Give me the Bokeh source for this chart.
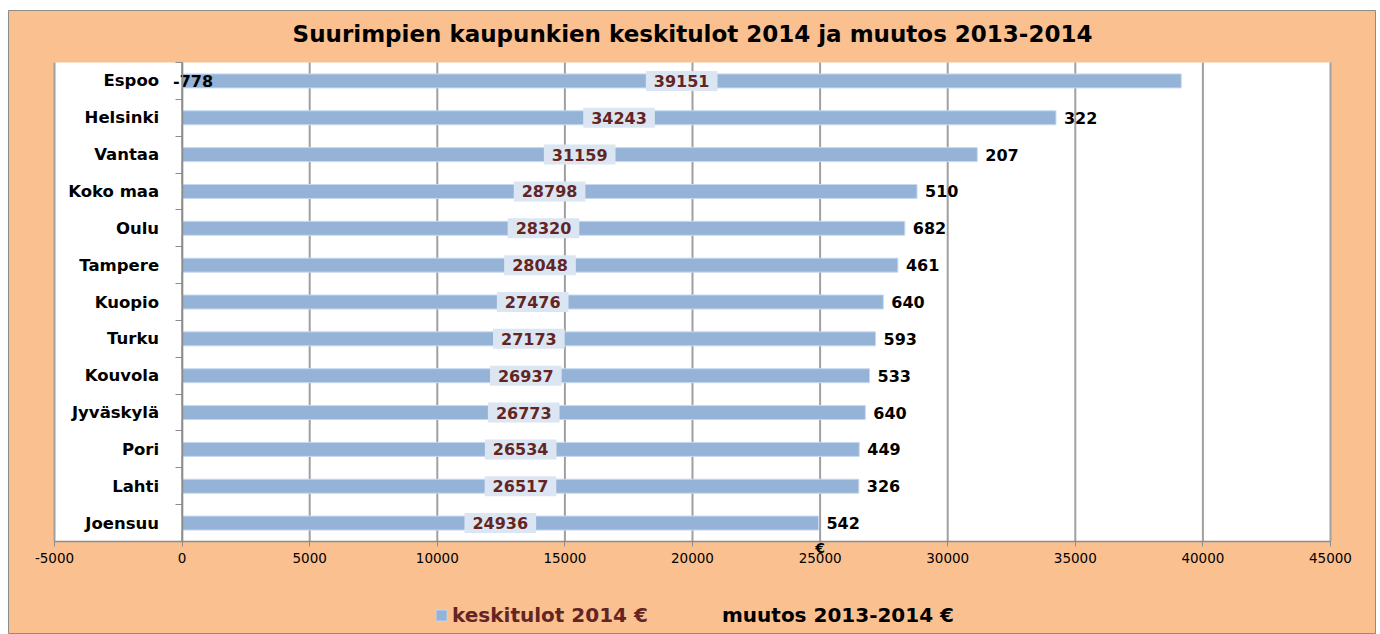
from bokeh.plotting import figure
from bokeh.models import Range1d, Label, Legend, LegendItem, ColumnDataSource, FixedTicker
from bokeh.embed import file_html
from bokeh.resources import INLINE
from bokeh.core.properties import value

# ---- data ----
cities = ["Espoo", "Helsinki", "Vantaa", "Koko maa", "Oulu", "Tampere", "Kuopio",
          "Turku", "Kouvola", "Jyväskylä", "Pori", "Lahti", "Joensuu"]
income_2014 = [39151, 34243, 31159, 28798, 28320, 28048, 27476,
               27173, 26937, 26773, 26534, 26517, 24936]
change_2013_2014 = [-778, 322, 207, 510, 682, 461, 640,
                    593, 533, 640, 449, 326, 542]
x_ticks = [-5000, 0, 5000, 10000, 15000, 20000, 25000, 30000, 35000, 40000, 45000]

title = "Suurimpien kaupunkien keskitulot 2014 ja muutos 2013-2014"
series_income = "keskitulot 2014 €"
series_change = "muutos 2013-2014 €"
unit = "€"

# ---- styles / layout ----
PEACH = "#FAC090"
BAR = "#95B3D7"
BOX = "#DCE6F2"
DARKRED = "#632523"
GRID = "#A0A0A0"
AXIS = "#8C8C8C"
FONT = value("DejaVu Sans")

n = len(cities)
XMIN, XMAX = x_ticks[0], x_ticks[-1]
# canvas geometry (pixels): figure spans x 8..1376, y 10..634; plot area x 54..1330, y 62..541
FIG_L, FIG_R, FIG_T, FIG_B = 8, 1376, 10, 634
PA_L, PA_R, PA_T, PA_B = 54, 1330, 62, 541
sx = (PA_R - PA_L) / (XMAX - XMIN)
sy = (PA_B - PA_T) / n
x_lo = XMIN - (PA_L - FIG_L) / sx
x_hi = XMAX + (FIG_R - PA_R) / sx
y_top = -0.5 - (PA_T - FIG_T) / sy
y_bot = n - 0.5 + (FIG_B - PA_B) / sy

ys = list(range(n))
src = ColumnDataSource(dict(
    city=cities,
    y=ys,
    income=income_2014,
    mid=[v / 2 for v in income_2014],
    inc_label=[str(v) for v in income_2014],
    change=change_2013_2014,
    chg_label=[str(c) for c in change_2013_2014],
    chg_x=[v if c >= 0 else 0 for v, c in zip(income_2014, change_2013_2014)],
    chg_off=[8 if c >= 0 else -9 for c in change_2013_2014],
))

p = figure(width=FIG_R - FIG_L, height=FIG_B - FIG_T,
           x_range=Range1d(x_lo, x_hi), y_range=Range1d(y_bot, y_top),
           output_backend="svg", toolbar_location=None,
           min_border=0, min_border_left=0, min_border_right=0,
           min_border_top=0, min_border_bottom=0,
           background_fill_color=PEACH, border_fill_color=PEACH,
           outline_line_color=AXIS, outline_line_width=1)
p.margin = (FIG_T, 0, 0, FIG_L)
p.title.visible = False
p.xgrid.grid_line_color = None
p.ygrid.grid_line_color = None

# white plot area
p.quad(left=XMIN, right=XMAX, top=-0.5, bottom=n - 0.5,
       fill_color="white", line_color=None)
# vertical gridlines at the tick positions
p.segment(x0=x_ticks, x1=x_ticks, y0=[-0.5] * len(x_ticks), y1=[n - 0.5] * len(x_ticks),
          line_color=GRID, line_width=2)

# x axis on the bottom of the plot area
xa = p.xaxis[0]
xa.fixed_location = n - 0.5
xa.bounds = (XMIN, XMAX)
xa.ticker = FixedTicker(ticks=x_ticks)
xa.major_label_overrides = {t: str(t) for t in x_ticks}
xa.major_label_text_font = "DejaVu Sans"
xa.major_label_text_font_size = "13.5px"
xa.major_label_text_color = "black"
xa.axis_line_color = AXIS
xa.axis_line_width = 1.5
xa.major_tick_line_color = AXIS
xa.major_tick_out = 5
xa.major_tick_in = 0
xa.minor_tick_line_color = None
xa.major_label_standoff = 6

# category axis at x = 0 (ticks between categories)
ya = p.yaxis[0]
bounds = [i - 0.5 for i in range(n + 1)]
ya.fixed_location = 0
ya.bounds = (-0.5, n - 0.5)
ya.ticker = FixedTicker(ticks=bounds)
ya.major_label_text_font_size = "0px"
ya.major_label_text_alpha = 0
ya.axis_line_color = AXIS
ya.axis_line_width = 1.5
ya.major_tick_line_color = AXIS
ya.major_tick_out = 7
ya.major_tick_in = 0
ya.minor_tick_line_color = None

# bars
bars = p.hbar(y="y", left=0, right="income", height=0.38, source=src,
              fill_color=BAR, line_color="#C6D9F1", line_width=1)
chg = p.hbar(y="y", left=0, right="change", height=0.38, source=src,
             fill_alpha=0, line_alpha=0)

# value labels
p.text(x="mid", y="y", text="inc_label", source=src, text_align="center",
       text_baseline="middle", text_font=FONT, text_font_style="bold",
       text_font_size="16px", text_color=DARKRED,
       background_fill_color=BOX, padding=(8, 4))
p.text(x="chg_x", y="y", text="chg_label", x_offset="chg_off", source=src,
       text_align="left", text_baseline="middle", text_font=FONT,
       text_font_style="bold", text_font_size="16px", text_color="black")

# category labels
p.text(x=0, y="y", text="city", x_offset=-23, source=src, text_align="right",
       text_baseline="middle", text_font=FONT, text_font_style="bold",
       text_font_size="16.5px", text_color="black")

# title
p.add_layout(Label(x=(XMIN + XMAX) / 2, y=-0.5 - 29 / sy, text=title, text_align="center",
                   text_baseline="middle", text_font="DejaVu Sans", text_font_style="bold",
                   text_font_size="23px", text_color="black"))
# axis unit
p.add_layout(Label(x=25000, y=n - 0.5 + 6 / sy, text=unit, text_align="center",
                   text_baseline="middle", text_font="DejaVu Sans", text_font_style="bold",
                   text_font_size="14px", text_color="black"))

# legends (two, because the text colours differ)
leg1 = Legend(items=[LegendItem(label=series_income, renderers=[bars])],
              location=(434 - FIG_L, FIG_B - 627), orientation="horizontal",
              label_text_font="DejaVu Sans", label_text_font_style="bold",
              label_text_font_size="20px", label_text_color=DARKRED,
              glyph_width=14, glyph_height=14, label_standoff=4,
              border_line_color=None, background_fill_alpha=0, padding=0, margin=0)
leg2 = Legend(items=[LegendItem(label=series_change, renderers=[chg])],
              location=(722 - 18 - FIG_L, FIG_B - 627), orientation="horizontal",
              label_text_font="DejaVu Sans", label_text_font_style="bold",
              label_text_font_size="20px", label_text_color="black",
              glyph_width=14, glyph_height=14, label_standoff=4,
              border_line_color=None, background_fill_alpha=0, padding=0, margin=0)
p.add_layout(leg1)
p.add_layout(leg2)

open("out.html", "w").write(file_html(p, INLINE))
